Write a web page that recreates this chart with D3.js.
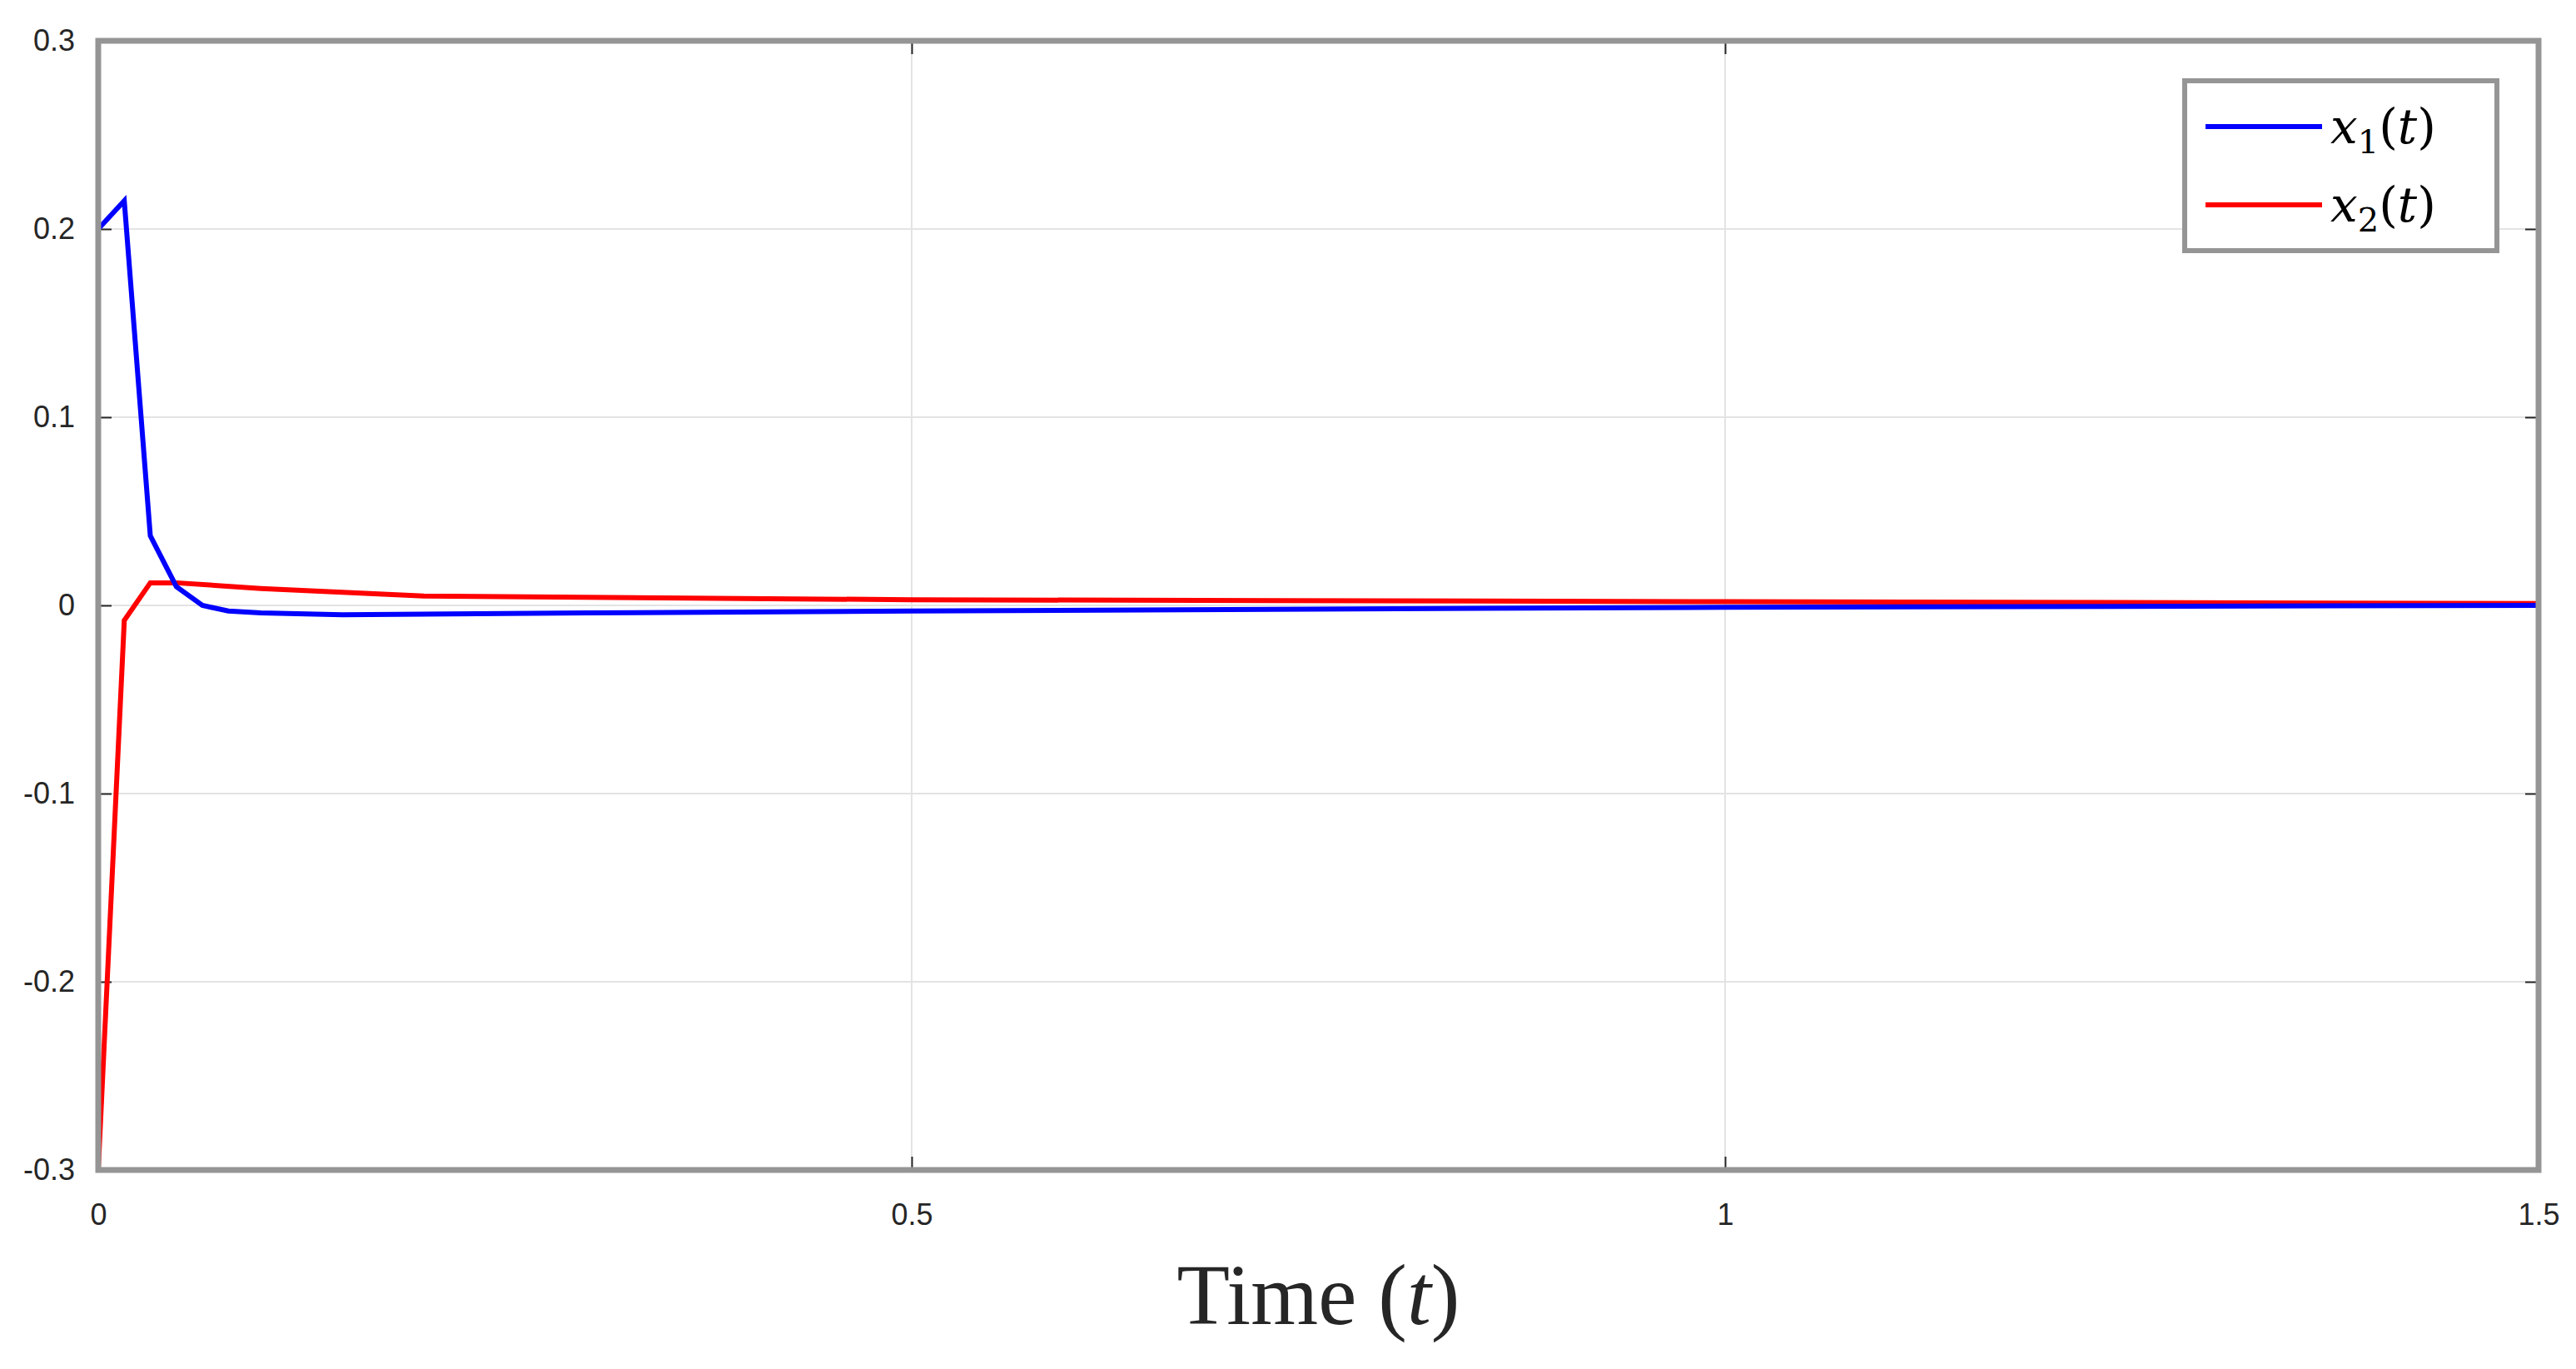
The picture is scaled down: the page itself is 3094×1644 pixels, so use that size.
<!DOCTYPE html>
<head>
    <meta charset="utf-8">
    <script src="https://d3js.org/d3.v7.min.js"></script>
    <style>
        body { margin: 0; background: #fff; }
        .tick text { font-family: "Liberation Sans", Arial, sans-serif; fill: #262626; }
    </style>
</head>
<body>
    <svg id="chart" width="3094" height="1644"></svg>
    <script>
        // data
        var t1 = [0, 0.016, 0.032, 0.048, 0.064, 0.08, 0.1, 0.15, 0.3, 0.5, 1.0, 1.5]
        var x1 = [0.2, 0.215, 0.037, 0.01, 0.0, -0.003, -0.004, -0.005, -0.004, -0.003, -0.001, 0]
        var t2 = [0, 0.016, 0.032, 0.048, 0.1, 0.2, 0.5, 1.0, 1.5]
        var x2 = [-0.3, -0.008, 0.012, 0.012, 0.009, 0.005, 0.003, 0.002, 0.001]
        var xTicks = [0, 0.5, 1, 1.5]
        var yTicks = [-0.3, -0.2, -0.1, 0, 0.1, 0.2, 0.3]

        var margin = { top: 49, right: 45, bottom: 239, left: 118 }
        var width = 3094 - margin.left - margin.right
        var height = 1644 - margin.top - margin.bottom

        var svg = d3.select("#chart")
        var g = svg.append("g").attr("transform", `translate(${margin.left},${margin.top})`)

        var x = d3.scaleLinear().domain([0, 1.5]).range([0, width])
        var y = d3.scaleLinear().domain([-0.3, 0.3]).range([height, 0])

        // grid
        g.append("g").selectAll("line").data(xTicks).enter().append("line")
            .attr("x1", d => x(d)).attr("x2", d => x(d)).attr("y1", 0).attr("y2", height)
            .attr("stroke", "#e3e3e3").attr("stroke-width", 2)
        g.append("g").selectAll("line").data(yTicks).enter().append("line")
            .attr("y1", d => y(d)).attr("y2", d => y(d)).attr("x1", 0).attr("x2", width)
            .attr("stroke", "#e3e3e3").attr("stroke-width", 2)

        // axes with inward ticks
        var fmt = d => d3.format("")(d).replace("−", "-")
        var axB = g.append("g").attr("transform", `translate(0,${height})`)
            .call(d3.axisBottom(x).tickValues(xTicks).tickSize(-16).tickPadding(40).tickFormat(fmt))
        var axL = g.append("g")
            .call(d3.axisLeft(y).tickValues(yTicks).tickSize(-16).tickPadding(28).tickFormat(fmt))
        var axT = g.append("g").call(d3.axisTop(x).tickValues(xTicks).tickSize(-16).tickFormat(""))
        var axR = g.append("g").attr("transform", `translate(${width},0)`)
            .call(d3.axisRight(y).tickValues(yTicks).tickSize(-16).tickFormat(""))
        ;[axB, axL, axT, axR].forEach(a => {
            a.select(".domain").remove()
            a.selectAll(".tick line").attr("stroke", "#262626").attr("stroke-width", 2)
            a.selectAll(".tick text").attr("font-size", 36)
        })

        // lines
        var line = d3.line().x(d => x(d[0])).y(d => y(d[1]))
        g.append("path").datum(d3.zip(t2, x2)).attr("d", line)
            .attr("fill", "none").attr("stroke", "#ff0000").attr("stroke-width", 6)
        g.append("path").datum(d3.zip(t1, x1)).attr("d", line)
            .attr("fill", "none").attr("stroke", "#0000ff").attr("stroke-width", 6)

        g.append("rect").attr("width", width).attr("height", height)
            .attr("fill", "none").attr("stroke", "#959595").attr("stroke-width", 7)

        // legend
        var lg = svg.append("g").attr("transform", "translate(2624,97)")
        lg.append("rect").attr("width", 375).attr("height", 204)
            .attr("fill", "#fff").attr("stroke", "#959595").attr("stroke-width", 6)
        var items = [["1", "#0000ff"], ["2", "#ff0000"]]
        items.forEach((it, i) => {
            var yy = 55 + i * 94
            lg.append("line").attr("x1", 25).attr("x2", 165).attr("y1", yy).attr("y2", yy)
                .attr("stroke", it[1]).attr("stroke-width", 6)
            var tx = lg.append("text").attr("x", 175).attr("y", yy + 20)
                .attr("font-family", "DejaVu Serif, serif").attr("font-size", 58).attr("fill", "#000")
            tx.append("tspan").attr("font-style", "italic").text("x")
            tx.append("tspan").attr("font-size", 40).attr("dy", 12).text(it[0])
            tx.append("tspan").attr("dy", -12).text("(")
            tx.append("tspan").attr("font-style", "italic").text("t")
            tx.append("tspan").text(")")
        })

        // x label
        var xl = svg.append("text").attr("x", margin.left + width / 2).attr("y", 1590)
            .attr("text-anchor", "middle").attr("font-family", "Liberation Serif, serif")
            .attr("font-size", 104).attr("fill", "#262626")
        xl.append("tspan").text("Time (")
        xl.append("tspan").attr("font-style", "italic").text("t")
        xl.append("tspan").text(")")
    </script>
</body>
